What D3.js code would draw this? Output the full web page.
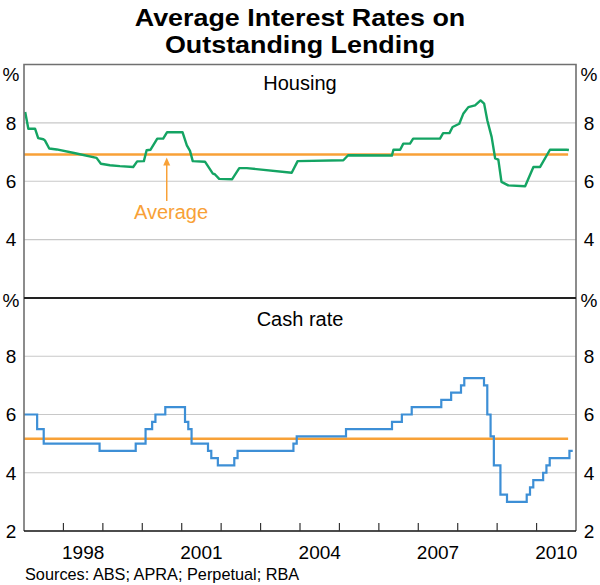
<!DOCTYPE html>
<html><head><meta charset="utf-8">
<script src="https://cdn.jsdelivr.net/npm/d3@7"></script>
<style>body{margin:0;background:#fff}svg{display:block;font-family:"Liberation Sans",Arial,sans-serif}</style>
</head><body><svg id="c" width="600" height="585"></svg>
<script>
// ---- data ----
const titleLines = ["Average Interest Rates on", "Outstanding Lending"];
const panelTitles = ["Housing", "Cash rate"];
const yTicks = [4, 6, 8];
const yearTicks = [1998,1999,2000,2001,2002,2003,2004,2005,2006,2007,2008,2009,2010];
const yearLabels = [1998, 2001, 2004, 2007, 2010];
// Housing average rate (decimal year, %)
const housingX = [1997.03,1997.11,1997.28,1997.36,1997.49,1997.53,1997.64,1997.83,1998.3,1998.84,1998.95,1999.18,1999.43,1999.77,1999.87,2000.04,2000.11,2000.21,2000.38,2000.53,2000.63,2001.02,2001.13,2001.21,2001.28,2001.59,2001.79,2001.84,2001.95,2002.28,2002.46,2002.65,2003.79,2003.94,2005.10,2005.22,2006.33,2006.37,2006.54,2006.62,2006.79,2006.87,2007.55,2007.63,2007.79,2007.87,2008.04,2008.14,2008.27,2008.44,2008.58,2008.67,2008.75,2008.86,2008.95,2009.03,2009.11,2009.28,2009.71,2009.92,2010.09,2010.34,2010.76,2010.82];
const housingY = [8.37,7.80,7.80,7.48,7.44,7.40,7.12,7.09,6.96,6.80,6.60,6.55,6.52,6.49,6.68,6.69,7.06,7.08,7.46,7.46,7.68,7.68,7.23,7.04,6.69,6.67,6.26,6.24,6.08,6.07,6.45,6.45,6.29,6.69,6.72,6.89,6.88,7.08,7.08,7.29,7.29,7.46,7.46,7.65,7.65,7.86,7.97,8.31,8.54,8.60,8.77,8.66,8.09,7.52,6.78,6.74,5.98,5.86,5.83,6.49,6.49,7.08,7.08,7.07];
// Cash rate target (month of change, %)
const cashDates = ["1997-01","1997-05","1997-07","1998-12","1999-11","2000-02","2000-04","2000-05","2000-08","2001-02","2001-03","2001-04","2001-09","2001-10","2001-12","2002-05","2002-06","2003-11","2003-12","2005-03","2006-05","2006-08","2006-11","2007-08","2007-11","2008-02","2008-03","2008-09","2008-10","2008-11","2008-12","2009-02","2009-04","2009-10","2009-11","2009-12","2010-03","2010-04","2010-05","2010-11","2010-12"];
const cashValues = [6.0,5.5,5.0,4.75,5.0,5.5,5.75,6.0,6.25,5.75,5.5,5.0,4.75,4.5,4.25,4.5,4.75,5.0,5.25,5.5,5.75,6.0,6.25,6.5,6.75,7.0,7.25,7.0,6.0,5.25,4.25,3.25,3.0,3.25,3.5,3.75,4.0,4.25,4.5,4.75,4.75];
const averages = [6.92, 5.17];
const averageSpan = [1997, 2010.8];
const annotation = "Average";
const annotationAt = 2000.62;
const source = "Sources: ABS; APRA; Perpetual; RBA";

// ---- colours ----
const GREEN = "#14a463", BLUE = "#3d8fd6", ORANGE = "#f8a137";

const svg = d3.select("#c");
const L = 24, R = 576, T = 64.5, MID = 298, B = 531;
const x = d3.scaleLinear().domain([1997, 2011]).range([L, R]);
const yTop = d3.scaleLinear().domain([2, 10]).range([MID, T]);
const yBot = d3.scaleLinear().domain([2, 10]).range([B, MID]);

// title
svg.append("g").attr("transform", "translate(300,0) scale(1.12,1)")
  .selectAll("text").data(titleLines).join("text")
  .attr("x", 0).attr("y", (d,i) => 26 + i*27)
  .attr("text-anchor","middle").attr("font-weight","bold").attr("font-size", 24).attr("fill","#000")
  .text(d => d);

// gridlines
[yTop, yBot].forEach(ys => {
  svg.append("g").selectAll("line").data(yTicks).join("line")
    .attr("x1", L).attr("x2", R).attr("y1", d => ys(d)).attr("y2", d => ys(d))
    .attr("stroke", "#c8c8c8").attr("stroke-width", 1.2);
});

// tick labels both sides
function yLabels(labels) {
  [11, 589].forEach(px => {
    svg.append("g").selectAll("text").data(labels).join("text")
      .attr("x", px).attr("y", d => d.y).attr("dy", "0.36em")
      .attr("text-anchor","middle").attr("font-size", 19).attr("fill","#000")
      .text(d => d.t);
  });
}
yLabels(yTicks.map(v => ({t: String(v), y: yTop(v)})).concat([{t:"%", y: 74.5}]));
yLabels(yTicks.concat([2]).map(v => ({t: String(v), y: yBot(v)})).concat([{t:"%", y: 300.5}]));

// panel titles
svg.append("text").attr("x", 300).attr("y", 90).attr("text-anchor","middle").attr("font-size", 20).text(panelTitles[0]);
svg.append("text").attr("x", 300).attr("y", 325.5).attr("text-anchor","middle").attr("font-size", 20).text(panelTitles[1]);

// averages
svg.append("line").attr("x1", x(averageSpan[0])).attr("x2", x(averageSpan[1]))
  .attr("y1", yTop(averages[0])).attr("y2", yTop(averages[0])).attr("stroke", ORANGE).attr("stroke-width", 2.5);
svg.append("line").attr("x1", x(averageSpan[0])).attr("x2", x(averageSpan[1]))
  .attr("y1", yBot(averages[1])).attr("y2", yBot(averages[1])).attr("stroke", ORANGE).attr("stroke-width", 2.5);

// housing line
const hData = housingX.map((d,i) => [d, housingY[i]]);
svg.append("path").datum(hData)
  .attr("d", d3.line().x(d => x(d[0])).y(d => yTop(d[1])))
  .attr("fill","none").attr("stroke", GREEN).attr("stroke-width", 2.4).attr("stroke-linejoin","round");

// cash line
const toYear = s => { const [yy, mm] = s.split("-").map(Number); return yy + (mm-1)/12; };
const cData = cashDates.map((d,i) => [toYear(d), cashValues[i]]);
svg.append("path").datum(cData)
  .attr("d", d3.line().curve(d3.curveStepAfter).x(d => x(d[0])).y(d => yBot(d[1])))
  .attr("fill","none").attr("stroke", BLUE).attr("stroke-width", 2.2);

// annotation arrow
const ax = x(annotationAt), ay = yTop(averages[0]);
svg.append("line").attr("x1", ax).attr("x2", ax).attr("y1", 201).attr("y2", ay + 9)
  .attr("stroke", ORANGE).attr("stroke-width", 1.5);
svg.append("path").attr("d", `M${ax},${ay+3}L${ax-3.5},${ay+11}L${ax+3.5},${ay+11}Z`).attr("fill", ORANGE);
svg.append("text").attr("x", 171).attr("y", 219).attr("text-anchor","middle").attr("font-size", 20).attr("fill", ORANGE).text(annotation);

// frame
svg.append("path").attr("d", `M${L},${B}V${T}H${R}V${B}`).attr("fill","none").attr("stroke","#707070").attr("stroke-width", 1.6);
svg.append("line").attr("x1", L).attr("x2", R).attr("y1", MID).attr("y2", MID).attr("stroke","#222").attr("stroke-width", 2.2);
svg.append("line").attr("x1", L).attr("x2", R).attr("y1", B).attr("y2", B).attr("stroke","#111").attr("stroke-width", 1.6);

// year ticks
svg.append("g").selectAll("line").data(yearTicks).join("line")
  .attr("x1", d => x(d)).attr("x2", d => x(d)).attr("y1", B).attr("y2", B - 8)
  .attr("stroke","#333").attr("stroke-width", 1.2);
svg.append("g").selectAll("text").data(yearLabels).join("text")
  .attr("x", d => x(d + 0.5)).attr("y", 558.5).attr("text-anchor","middle").attr("font-size", 19).text(d => d);

// source
svg.append("text").attr("x", 25).attr("y", 580).attr("font-size", 16.3).text(source);
</script></body></html>
